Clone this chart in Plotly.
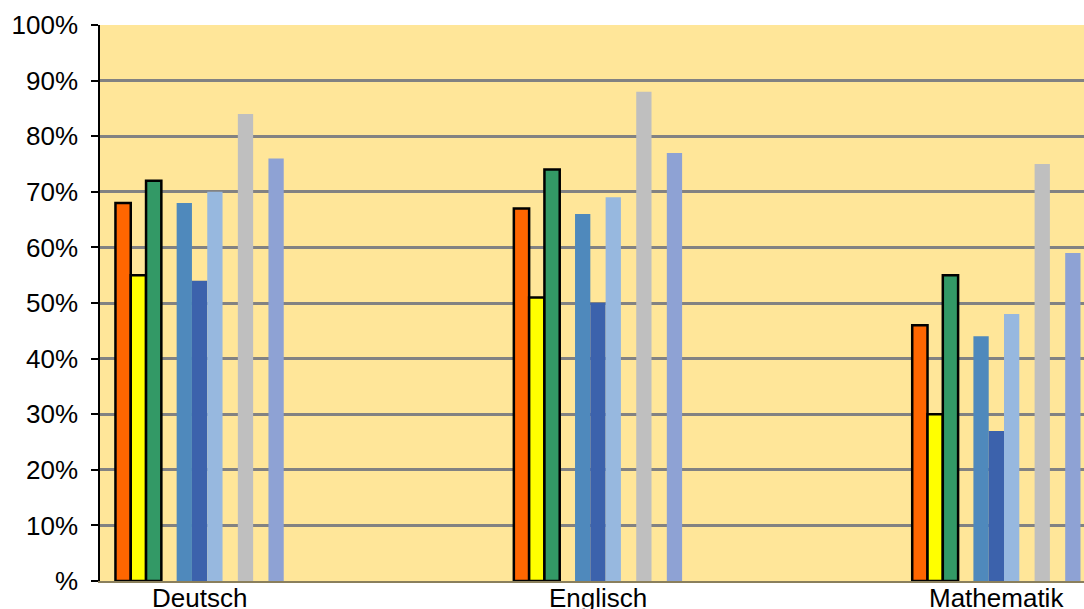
import plotly.graph_objects as go

# Subjects and their positions on the category axis (empty bands between them)
categories = ["Deutsch", "Englisch", "Mathematik"]
category_pos = [0, 2, 4]

# Share of students per group (fractions of 1)
s_orange = [0.68, 0.67, 0.46]
s_yellow = [0.55, 0.51, 0.30]
s_green = [0.72, 0.74, 0.55]
s_steel = [0.68, 0.66, 0.44]
s_navy = [0.54, 0.50, 0.27]
s_sky = [0.70, 0.69, 0.48]
s_grey = [0.84, 0.88, 0.75]
s_lilac = [0.76, 0.77, 0.59]

# Y axis ticks
y_tickvals = [0, 0.1, 0.2, 0.3, 0.4, 0.5, 0.6, 0.7, 0.8, 0.9, 1.0]
y_ticktext = ["%", "10%", "20%", "30%", "40%", "50%", "60%", "70%", "80%", "90%", "100%"]

# (values, fill colour, outlined, slot inside the group)
series = [
    (s_orange, "#FF6600", True, 0),
    (s_yellow, "#FFFF00", True, 1),
    (s_green, "#339966", True, 2),
    (s_steel, "#4F89BC", False, 4),
    (s_navy, "#3C62AC", False, 5),
    (s_sky, "#97B8DF", False, 6),
    (s_grey, "#BFBFBF", False, 8),
    (s_lilac, "#8EA2D4", False, 10),
]

n_slots = 11
slot_w = 0.0768
group_start = -n_slots * slot_w / 2

fig = go.Figure()
for vals, color, outlined, slot in series:
    fig.add_trace(go.Bar(
        x=category_pos,
        y=vals,
        width=slot_w,
        offset=group_start + slot * slot_w,
        marker=dict(
            color=color,
            line=dict(color="black" if outlined else color, width=2.5 if outlined else 0),
        ),
        showlegend=False,
        hoverinfo="skip",
    ))

font = dict(family="Arial, Liberation Sans, sans-serif", size=26, color="black")

# Category names sit tight under the axis line
for pos, name in zip(category_pos, categories):
    fig.add_annotation(
        x=pos, y=0, xref="x", yref="y",
        text=name, showarrow=False,
        xanchor="center", yanchor="top",
        yshift=-1, borderpad=0,
        font=font,
    )

fig.update_layout(
    width=1084,
    height=609,
    margin=dict(l=100, r=0, t=25, b=28),
    paper_bgcolor="white",
    plot_bgcolor="#FFE699",
    barmode="overlay",
    font=font,
    xaxis=dict(
        range=[-0.5, 4.44],
        showticklabels=False,
        showgrid=False,
        zeroline=False,
        showline=True,
        linecolor="#8a7f5c",
        linewidth=2,
        ticks="",
        automargin=False,
    ),
    yaxis=dict(
        range=[0, 1],
        tickvals=y_tickvals,
        ticktext=y_ticktext,
        showgrid=True,
        gridcolor="#828282",
        gridwidth=2.5,
        zeroline=False,
        showline=True,
        linecolor="black",
        linewidth=1.5,
        ticks="outside",
        ticklen=7,
        tickcolor="black",
        tickwidth=1.5,
        tickfont=font,
        ticklabelstandoff=8,
        automargin=False,
    ),
)

fig.write_html("out.html")
